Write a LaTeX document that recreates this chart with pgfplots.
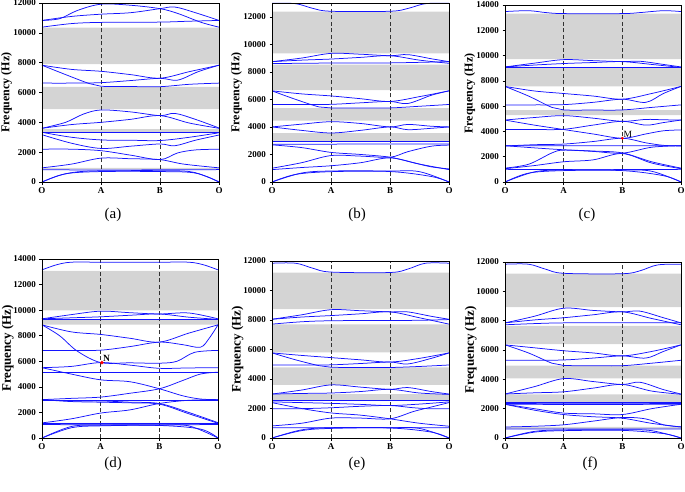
\documentclass[border=0pt]{standalone}
\usepackage{fontspec}
\setmainfont{Liberation Serif}
\usepackage{pgfplots}
\pgfplotsset{compat=1.18}
\definecolor{gapgray}{RGB}{212,212,212}
\definecolor{bandblue}{RGB}{20,20,255}
\pgfplotsset{
 bandax/.style={scale only axis, width=177pt, xmin=0, xmax=3, ymin=0,
  xtick={0,1,2,3}, xticklabels={O,A,B,O}, ytick pos=left, xtick pos=bottom,
  tick align=outside, major tick length=2.5pt, minor tick num=0,
  ticklabel style={font=\bfseries\fontsize{9}{9}\selectfont},
  /pgf/number format/assume math mode=true, /pgf/number format/1000 sep={},
  scaled y ticks=false, axis on top, clip=true,
  ylabel={Frequency (Hz)},
  ylabel style={at={(axis description cs:-0.2,0.5)}, anchor=center, font=\bfseries\fontsize{12}{12}\selectfont},
  axis line style={line width=0.6pt}, tick style={line width=0.5pt, black}},
 band/.style={bandblue, line width=0.75pt, smooth, tension=0.55, mark=none},
 gap/.style={fill=gapgray, draw=none, mark=none},
 sym/.style={black!80, line width=0.6pt, mark=none, dash pattern=on 4pt off 2.5pt},
 rowtwo/.style={ylabel style={font=\bfseries\fontsize{13}{13}\selectfont, at={(axis description cs:-0.195,0.5)}}},
}
\begin{document}
\begin{tikzpicture}[x=1pt,y=1pt]
\path[use as bounding box] (0,0) rectangle (685,491);

% ---------------- (a) ----------------
\begin{axis}[bandax, at={(42pt,309pt)}, anchor=south west, height=179pt, ymax=12000, ytick={0,2000,...,12000}]
\addplot[gap] coordinates {(0,7900) (3,7900) (3,10350) (0,10350) (0,7900)};
\addplot[gap] coordinates {(0,4880) (3,4880) (3,6380) (0,6380) (0,4880)};
\addplot[gap] coordinates {(0,3330) (3,3330) (3,3550) (0,3550) (0,3330)};
\addplot[gap] coordinates {(0,850) (3,850) (3,940) (0,940) (0,850)};
\addplot[sym] coordinates {(1,0) (1,12000)};
\addplot[sym] coordinates {(2,0) (2,12000)};
\addplot[band] coordinates {(0,10830) (0.3,10950) (0.6,11500) (1,11920) (1.5,11850) (2,11620) (2.3,11300) (2.7,10700) (3,10380)};
\addplot[band] coordinates {(0,10830) (0.5,11100) (1,11250) (1.5,11350) (2,11620) (2.25,11730) (2.6,11350) (3,10830)};
\addplot[band] coordinates {(0,10380) (0.5,10620) (1,10700) (2,10720) (2.5,10780) (3,10830)};
\addplot[band] coordinates {(0,7830) (0.5,7550) (1,7420) (1.5,7200) (2,6960) (2.5,7400) (3,7830)};
\addplot[band] coordinates {(0,7830) (0.4,7200) (0.8,6600) (1,6420) (1.5,6400) (2,6390) (2.5,6550) (3,6630)};
\addplot[band] coordinates {(0,6630) (0.5,6630) (1,6660) (1.5,6800) (2,6950) (2.3,6830) (2.65,7400) (3,7830)};
\addplot[band] coordinates {(0,3600) (0.4,4000) (0.7,4550) (1,4830) (1.5,4700) (2,4450) (2.25,4600) (2.6,4200) (3,3620)};
\addplot[band] coordinates {(0,3600) (0.5,3850) (1,4000) (1.5,4200) (2,4450) (2.5,3950) (3,3600)};
\addplot[band] coordinates {(0,3320) (1,3320) (2,3320) (3,3320)};
\addplot[band] coordinates {(0,3330) (0.5,3000) (1,2820) (1.5,2800) (2,2780) (2.5,3000) (3,3300)};
\addplot[band] coordinates {(0,3170) (0.5,2600) (1,2250) (1.5,2400) (2,2550) (2.25,2430) (2.6,2800) (3,3150)};
\addplot[band] coordinates {(0,2200) (0.5,2200) (1,2100) (1.5,1800) (2,1500) (2.3,1950) (2.6,2150) (3,2200)};
\addplot[band] coordinates {(0,950) (0.5,1200) (1,1600) (1.5,1560) (2,1500) (2.4,1200) (3,950)};
\addplot[band] coordinates {(0,830) (1,800) (2,820) (3,830)};
\addplot[band] coordinates {(0,0) (0.3,450) (0.6,680) (1,750) (2,760) (2.5,700) (2.8,350) (3,0)};
\addplot[band] coordinates {(0,0) (0.4,550) (1,700) (2,700) (2.6,600) (3,0)};
\end{axis}

% ---------------- (b) ----------------
\begin{axis}[bandax, at={(272pt,309pt)}, anchor=south west, height=179pt, ymax=13000, ytick={0,2000,...,12000}]
\addplot[gap] coordinates {(0,9340) (3,9340) (3,12380) (0,12380) (0,9340)};
\addplot[gap] coordinates {(0,6680) (3,6680) (3,8520) (0,8520) (0,6680)};
\addplot[gap] coordinates {(0,4460) (3,4460) (3,5360) (0,5360) (0,4460)};
\addplot[gap] coordinates {(0,2970) (3,2970) (3,3550) (0,3550) (0,2970)};
\addplot[sym] coordinates {(1,0) (1,13000)};
\addplot[sym] coordinates {(2,0) (2,13000)};
\addplot[band] coordinates {(0,12980) (0.4,12950) (0.7,12600) (1,12400) (2,12400) (2.3,12600) (2.6,12950) (3,12980)};
\addplot[band] coordinates {(0,8740) (0.5,9000) (1,9340) (1.5,9280) (2,9170) (2.3,9250) (2.7,8950) (3,8740)};
\addplot[band] coordinates {(0,8740) (0.5,8850) (1,8930) (1.5,9050) (2,9170) (2.5,8850) (3,8620)};
\addplot[band] coordinates {(0,8600) (1,8640) (2,8650) (3,8740)};
\addplot[band] coordinates {(0,6620) (0.5,6400) (1,6250) (1.5,6050) (2,5850) (2.5,6200) (3,6620)};
\addplot[band] coordinates {(0,6620) (0.4,6000) (0.8,5450) (1,5380) (1.5,5370) (2,5380) (2.5,5500) (3,5630)};
\addplot[band] coordinates {(0,5630) (0.5,5630) (1,5640) (1.5,5750) (2,5850) (2.3,5700) (2.7,6300) (3,6620)};
\addplot[band] coordinates {(0,4000) (0.5,4200) (1,4380) (1.5,4250) (2,4000) (2.3,4180) (2.7,4050) (3,4000)};
\addplot[band] coordinates {(0,4000) (0.5,3750) (1,3560) (1.5,3750) (2,4000) (2.3,3800) (2.7,3900) (3,4000)};
\addplot[band] coordinates {(0,2940) (1,2940) (2,2940) (3,2940)};
\addplot[band] coordinates {(0,2750) (1,2750) (2,2760) (3,2760)};
\addplot[band] coordinates {(0,2700) (0.5,2500) (1,2150) (1.5,2000) (2,1800) (2.4,1400) (2.7,1100) (3,950)};
\addplot[band] coordinates {(0,1000) (0.5,1400) (1,1920) (1.5,1880) (2,1800) (2.3,2200) (2.7,2600) (3,2680)};
\addplot[band] coordinates {(0,900) (0.5,1050) (1,1180) (1.5,1400) (2,1750) (2.5,1300) (3,900)};
\addplot[band] coordinates {(0,0) (0.5,650) (1,800) (2,800) (2.5,750) (3,0)};
\addplot[band] coordinates {(0,0) (0.4,550) (1,750) (2,760) (2.7,400) (3,0)};
\end{axis}

% ---------------- (c) ----------------
\begin{axis}[bandax, at={(505pt,309pt)}, anchor=south west, height=177pt, width=176pt, ymax=14000, ytick={0,2000,...,14000}]
\addplot[gap] coordinates {(0,9720) (3,9720) (3,13320) (0,13320) (0,9720)};
\addplot[gap] coordinates {(0,7560) (3,7560) (3,9060) (0,9060) (0,7560)};
\addplot[gap] coordinates {(0,5280) (3,5280) (3,5680) (0,5680) (0,5280)};
\addplot[sym] coordinates {(1,0) (1,14000)};
\addplot[sym] coordinates {(2,0) (2,14000)};
\addplot[band] coordinates {(0,13480) (0.4,13550) (0.7,13400) (1,13320) (2,13320) (2.3,13400) (2.7,13550) (3,13480)};
\addplot[band] coordinates {(0,9100) (0.5,9400) (1,9680) (1.5,9600) (2,9520) (2.3,9550) (2.7,9300) (3,9100)};
\addplot[band] coordinates {(0,9100) (0.5,9250) (1,9370) (1.5,9450) (2,9520) (2.5,9300) (3,9060)};
\addplot[band] coordinates {(0,9080) (1,9080) (2,9080) (3,9080)};
\addplot[band] coordinates {(0,7560) (0.5,7200) (1,7000) (1.5,6800) (2,6550) (2.5,7000) (3,7560)};
\addplot[band] coordinates {(0,7560) (0.4,6800) (0.8,5900) (1,5700) (1.5,5690) (2,5700) (2.5,5900) (3,6100)};
\addplot[band] coordinates {(0,6100) (0.5,6100) (1,6120) (1.5,6300) (2,6550) (2.4,6300) (2.7,7000) (3,7560)};
\addplot[band] coordinates {(0,4900) (0.5,5100) (1,5250) (1.5,5050) (2,4800) (2.4,4950) (2.7,4920) (3,4900)};
\addplot[band] coordinates {(0,4900) (0.5,4500) (1,4150) (1.5,3800) (2,3460) (2.4,3800) (2.7,4050) (3,4120)};
\addplot[band] coordinates {(0,4150) (0.5,4150) (1,4170) (1.5,4500) (2,4800) (2.4,4500) (2.7,4700) (3,4900)};
\addplot[band] coordinates {(0,2850) (0.5,2950) (1,3000) (1.5,3200) (2,3460) (2.4,3100) (2.7,2900) (3,2850)};
\addplot[band] coordinates {(0,2870) (1,2860) (2,2860) (3,2870)};
\addplot[band] coordinates {(0,2870) (0.5,2700) (1,2550) (1.5,2450) (2,2300) (2.5,1600) (3,1100)};
\addplot[band] coordinates {(0,1100) (0.4,1400) (0.8,2300) (1,2520) (1.5,2420) (2,2280) (2.5,2750) (3,2870)};
\addplot[band] coordinates {(0,1050) (0.5,1300) (1,1600) (1.5,1750) (2,2250) (2.5,1500) (3,1050)};
\addplot[band] coordinates {(0,1000) (1,980) (2,980) (3,1000)};
\addplot[band] coordinates {(0,0) (0.5,800) (1,950) (2,950) (2.5,850) (3,0)};
\addplot[band] coordinates {(0,0) (0.4,700) (1,900) (2,900) (2.7,500) (3,0)};
\addplot[only marks, mark=*, red, mark size=1.3pt] coordinates {(2,3460)} node[anchor=south west, black, font=\fontsize{9.5}{9.5}\selectfont, inner sep=1pt] {M};
\end{axis}

% ---------------- (d) ----------------
\begin{axis}[bandax, rowtwo, at={(42pt,53pt)}, anchor=south west, height=179pt, width=176pt, ymax=14000, ytick={0,2000,...,14000}]
\addplot[gap] coordinates {(0,9980) (3,9980) (3,13070) (0,13070) (0,9980)};
\addplot[gap] coordinates {(0,8870) (3,8870) (3,9300) (0,9300) (0,8870)};
\addplot[gap] coordinates {(0,1050) (3,1050) (3,1180) (0,1180) (0,1050)};
\addplot[sym] coordinates {(1,0) (1,14000)};
\addplot[sym] coordinates {(2,0) (2,14000)};
\addplot[band] coordinates {(0,13150) (0.25,13550) (0.5,13750) (1,13750) (2,13750) (2.5,13750) (2.75,13550) (3,13150)};
\addplot[band] coordinates {(0,9320) (0.5,9650) (1,9920) (1.5,9800) (2,9700) (2.5,9780) (3,9320)};
\addplot[band] coordinates {(0,9320) (0.5,9400) (1,9480) (1.5,9600) (2,9700) (2.5,9450) (3,9280)};
\addplot[band] coordinates {(0,9280) (1,9280) (2,9280) (3,9280)};
\addplot[band] coordinates {(0,8850) (0.5,8300) (1,8100) (1.5,7800) (2,7500) (2.5,8200) (3,8850)};
\addplot[band] coordinates {(0,8850) (0.3,8000) (0.6,6800) (1,5900) (1.5,5880) (2,5850) (2.3,6000) (2.6,6700) (3,6850)};
\addplot[band] coordinates {(0,6850) (0.5,6850) (1,6870) (1.5,7150) (2,7500) (2.4,7300) (2.7,7100) (2.85,7800) (3,8850)};
\addplot[band] coordinates {(0,5500) (0.5,5600) (1,5900) (1.5,5700) (2,5450) (2.5,5480) (3,5500)};
\addplot[band] coordinates {(0,5150) (1,5150) (2,5150) (3,5150)};
\addplot[band] coordinates {(0,5500) (0.5,5000) (1,4550) (1.5,4400) (2,3850) (2.4,3300) (2.7,3050) (3,3000)};
\addplot[band] coordinates {(0,3000) (0.5,3100) (1,3200) (1.5,3500) (2,3850) (2.4,4500) (2.7,5000) (3,5150)};
\addplot[band] coordinates {(0,2980) (1,2980) (2,2980) (3,2980)};
\addplot[band] coordinates {(0,3000) (0.5,2900) (1,2900) (1.5,2800) (2,2700) (2.5,2000) (3,1200)};
\addplot[band] coordinates {(0,3000) (0.5,2850) (1,2800) (1.5,2750) (2,2650) (2.5,1900) (3,1150)};
\addplot[band] coordinates {(0,1180) (0.5,1500) (1,1950) (1.5,2200) (2,2700) (2.5,2950) (3,3000)};
\addplot[band] coordinates {(0,1180) (1,1180) (2,1180) (3,1180)};
\addplot[band] coordinates {(0,1050) (1,1040) (2,1040) (3,1050)};
\addplot[band] coordinates {(0,0) (0.5,900) (1,1000) (2,1000) (2.5,950) (3,0)};
\addplot[band] coordinates {(0,0) (0.5,800) (1,950) (2,980) (2.7,700) (3,0)};
\addplot[only marks, mark=*, red, mark size=1.6pt] coordinates {(1.02,5900)} node[anchor=south west, black, font=\bfseries\fontsize{9.5}{9.5}\selectfont, inner sep=1pt] {N};
\end{axis}

% ---------------- (e) ----------------
\begin{axis}[bandax, rowtwo, at={(272pt,53pt)}, anchor=south west, height=177pt, ymax=12000, ytick={0,2000,...,12000}]
\addplot[gap] coordinates {(0,8730) (3,8730) (3,11210) (0,11210) (0,8730)};
\addplot[gap] coordinates {(0,5800) (3,5800) (3,7710) (0,7710) (0,5800)};
\addplot[gap] coordinates {(0,3610) (3,3610) (3,4780) (0,4780) (0,3610)};
\addplot[gap] coordinates {(0,2530) (3,2530) (3,2980) (0,2980) (0,2530)};
\addplot[sym] coordinates {(1,0) (1,12000)};
\addplot[sym] coordinates {(2,0) (2,12000)};
\addplot[band] coordinates {(0,11850) (0.4,11850) (0.7,11500) (1,11250) (2,11220) (2.3,11450) (2.6,11850) (3,11850)};
\addplot[band] coordinates {(0,8050) (0.5,8350) (1,8700) (1.5,8630) (2,8550) (2.3,8550) (2.7,8250) (3,8050)};
\addplot[band] coordinates {(0,8050) (0.5,8200) (1,8300) (1.5,8420) (2,8550) (2.5,8150) (3,7720)};
\addplot[band] coordinates {(0,7720) (0.5,7880) (1,7950) (2,7970) (2.5,7980) (3,8030)};
\addplot[band] coordinates {(0,5770) (0.5,5600) (1,5450) (1.5,5300) (2,5150) (2.5,5400) (3,5770)};
\addplot[band] coordinates {(0,5770) (0.4,5300) (0.8,4900) (1,4800) (1.5,4780) (2,4780) (2.5,4850) (3,4950)};
\addplot[band] coordinates {(0,4950) (0.5,4950) (1,4960) (1.5,5050) (2,5150) (2.3,5020) (2.7,5400) (3,5770)};
\addplot[band] coordinates {(0,2980) (0.5,3250) (1,3600) (1.5,3450) (2,3300) (2.3,3420) (2.7,3150) (3,2980)};
\addplot[band] coordinates {(0,2980) (0.5,3020) (1,3050) (1.5,3150) (2,3300) (2.5,3050) (3,2960)};
\addplot[band] coordinates {(0,2530) (1,2530) (2,2530) (3,2530)};
\addplot[band] coordinates {(0,2450) (0.5,2400) (1,2350) (1.5,2280) (2,2200) (2.5,2300) (3,2450)};
\addplot[band] coordinates {(0,2400) (0.5,2000) (1,1700) (1.5,1550) (2,1300) (2.5,1000) (3,800)};
\addplot[band] coordinates {(0,1980) (0.5,1990) (1,2050) (1.5,2150) (2,2200) (2.4,2050) (2.7,1980) (3,1980)};
\addplot[band] coordinates {(0,820) (0.5,1000) (1,1350) (1.5,1350) (2,1300) (2.4,1800) (2.7,2100) (3,2400)};
\addplot[band] coordinates {(0,700) (1,690) (2,690) (3,700)};
\addplot[band] coordinates {(0,0) (0.5,550) (1,700) (2,700) (2.5,650) (3,0)};
\addplot[band] coordinates {(0,0) (0.5,500) (1,650) (2,680) (2.7,400) (3,0)};
\end{axis}

% ---------------- (f) ----------------
\begin{axis}[bandax, rowtwo, at={(505pt,53pt)}, anchor=south west, height=176pt, width=176pt, ymax=12000, ytick={0,2000,...,12000}]
\addplot[gap] coordinates {(0,8930) (3,8930) (3,11210) (0,11210) (0,8930)};
\addplot[gap] coordinates {(0,6400) (3,6400) (3,7640) (0,7640) (0,6400)};
\addplot[gap] coordinates {(0,4070) (3,4070) (3,4930) (0,4930) (0,4070)};
\addplot[gap] coordinates {(0,2440) (3,2440) (3,2980) (0,2980) (0,2440)};
\addplot[gap] coordinates {(0,630) (3,630) (3,760) (0,760) (0,630)};
\addplot[sym] coordinates {(1,0) (1,12000)};
\addplot[sym] coordinates {(2,0) (2,12000)};
\addplot[band] coordinates {(0,11850) (0.4,11850) (0.7,11500) (1,11230) (2,11200) (2.3,11400) (2.6,11800) (3,11850)};
\addplot[band] coordinates {(0,7850) (0.5,8300) (1,8850) (1.5,8700) (2,8600) (2.3,8650) (2.7,8200) (3,7850)};
\addplot[band] coordinates {(0,7850) (0.5,8050) (1,8200) (1.5,8400) (2,8600) (2.5,8150) (3,7720)};
\addplot[band] coordinates {(0,7720) (0.5,7800) (1,7850) (2,7850) (3,7850)};
\addplot[band] coordinates {(0,6350) (0.5,6150) (1,5950) (1.5,5800) (2,5600) (2.5,5900) (3,6350)};
\addplot[band] coordinates {(0,6350) (0.4,5800) (0.8,5100) (1,4950) (1.5,4930) (2,4930) (2.5,5100) (3,5300)};
\addplot[band] coordinates {(0,5300) (0.5,5300) (1,5320) (1.5,5450) (2,5600) (2.4,5450) (2.7,5900) (3,6350)};
\addplot[band] coordinates {(0,3000) (0.5,3500) (1,4050) (1.5,3850) (2,3650) (2.3,3800) (2.7,3300) (3,3000)};
\addplot[band] coordinates {(0,3000) (0.5,3080) (1,3150) (1.5,3400) (2,3650) (2.5,3200) (3,2980)};
\addplot[band] coordinates {(0,2420) (1,2420) (2,2420) (3,2420)};
\addplot[band] coordinates {(0,2350) (1,2340) (2,2340) (3,2350)};
\addplot[band] coordinates {(0,2300) (1,2290) (2,2290) (3,2300)};
\addplot[band] coordinates {(0,2300) (0.5,2000) (1,1700) (1.5,1650) (2,1600) (2.5,2000) (3,2300)};
\addplot[band] coordinates {(0,2300) (0.5,1900) (1,1600) (1.5,1450) (2,1350) (2.5,1000) (3,750)};
\addplot[band] coordinates {(0,750) (0.5,800) (1,900) (1.5,1150) (2,1400) (2.4,1300) (2.7,900) (3,760)};
\addplot[band] coordinates {(0,620) (1,610) (2,610) (3,620)};
\addplot[band] coordinates {(0,0) (0.5,450) (1,550) (2,560) (2.5,500) (3,0)};
\addplot[band] coordinates {(0,0) (0.5,400) (1,500) (2,520) (2.7,300) (3,0)};
\end{axis}

% captions
\node[font=\fontsize{15}{15}\selectfont] at (113,276) {(a)};
\node[font=\fontsize{15}{15}\selectfont] at (357,276) {(b)};
\node[font=\fontsize{15}{15}\selectfont] at (587,276) {(c)};
\node[font=\fontsize{15}{15}\selectfont] at (113,27) {(d)};
\node[font=\fontsize{15}{15}\selectfont] at (357,27) {(e)};
\node[font=\fontsize{15}{15}\selectfont] at (590,27) {(f)};
\end{tikzpicture}
\end{document}
